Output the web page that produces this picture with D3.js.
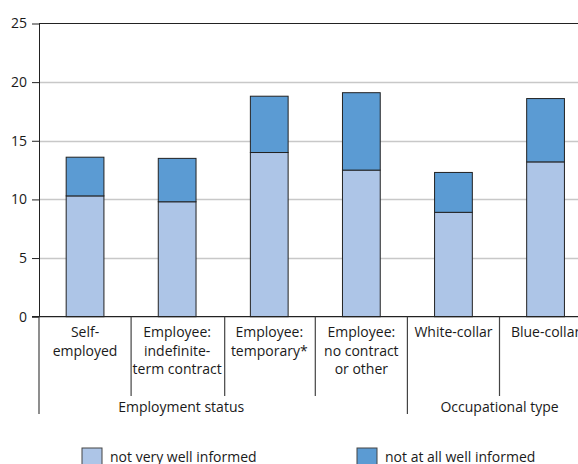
<!DOCTYPE html>
<html><head><meta charset="utf-8">
<script src="https://cdn.jsdelivr.net/npm/d3@7"></script>
<style>
html,body{margin:0;padding:0;background:#fff;overflow:hidden}
text{font-family:"Open Sans",sans-serif;fill:#1a1a1a}
</style></head>
<body><svg id="c" width="578" height="464"></svg>
<script>
const categories = [["Self-","employed"],["Employee:","indefinite-","term contract"],["Employee:","temporary*"],["Employee:","no contract","or other"],["White-collar"],["Blue-collar"]];
const notVeryWell = [10.3, 9.8, 14.0, 12.5, 8.9, 13.2];
const notAtAllWell = [3.3, 3.7, 4.8, 6.6, 3.4, 5.4];
const seriesNames = ["not very well informed","not at all well informed"];
const yTicks = [0,5,10,15,20,25];
const groups = [{name:"Employment status", from:0, to:3}, {name:"Occupational type", from:4, to:5}];

(function(){
const colors = ["#adc5e7","#5b9bd3"];
const svg = d3.select("#c");
const W = 578;
const mLeft = 39, mTop = 23.5, mBottom = 316.7;
const x = d3.scaleBand().domain(d3.range(categories.length)).range([mLeft, mLeft + 92.1*6]).paddingInner(0.59).paddingOuter(0.295);
const y = d3.scaleLinear().domain([0,25]).range([mBottom, mTop]);

svg.append("g").selectAll("line").data(yTicks.filter(t=>t>0 && t<25)).join("line")
  .attr("x1",mLeft).attr("x2",W).attr("y1",d=>Math.round(y(d))+0.5).attr("y2",d=>Math.round(y(d))+0.5)
  .attr("stroke","#c8c8c8").attr("stroke-width",1.5);
svg.append("line").attr("x1",mLeft).attr("x2",W).attr("y1",y(25)).attr("y2",y(25)).attr("stroke","#222").attr("stroke-width",1.2);

const yAxis = svg.append("g").attr("transform",`translate(${mLeft},0)`)
  .call(d3.axisLeft(y).tickValues(yTicks).tickSize(7).tickPadding(5).tickSizeOuter(0));
yAxis.select(".domain").attr("stroke","#222");
yAxis.selectAll(".tick line").attr("stroke","#222");
yAxis.selectAll("text").attr("font-size","14px").attr("font-family","Open Sans, sans-serif").attr("fill","#1a1a1a");

const stackData = categories.map((c,i)=>({i, a:notVeryWell[i], b:notAtAllWell[i]}));
const stack = d3.stack().keys(["a","b"])(stackData);
svg.append("g").selectAll("g").data(stack).join("g").attr("fill",(d,k)=>colors[k])
  .selectAll("rect").data(d=>d).join("rect")
  .attr("x",d=>x(d.data.i)).attr("width",x.bandwidth())
  .attr("y",d=>y(d[1])).attr("height",d=>y(d[0])-y(d[1]))
  .attr("stroke","#222").attr("stroke-width",1);

svg.append("line").attr("x1",mLeft-7).attr("x2",W).attr("y1",y(0)).attr("y2",y(0)).attr("stroke","#222").attr("stroke-width",1.2);

const step = x.step();
const bandStart = i => x(i) - x.paddingInner()*step/2;

const lab = svg.append("g").selectAll("text").data(categories).join("text")
  .attr("text-anchor","middle").attr("font-size","14px")
  .attr("x",(d,i)=>x(i)+x.bandwidth()/2).attr("y",337);
lab.selectAll("tspan").data(d=>d).join("tspan")
  .attr("x",function(){return this.parentNode.getAttribute("x");})
  .attr("dy",(d,j)=>j===0?0:18.5).text(d=>d);

// label right edges, to keep separators clear of text
const rightEdge = [];
lab.each(function(d,i){
  let w = 0; d3.select(this).selectAll("tspan").each(function(){ w = Math.max(w, this.getComputedTextLength()); });
  rightEdge[i] = x(i)+x.bandwidth()/2 + w/2;
});
const sepX = i => i===0 ? mLeft : Math.max(bandStart(i), rightEdge[i-1] + 3);

const seps = d3.range(0, categories.length).map(i=>({i, long: groups.some(g=>g.from===i)}));
svg.append("g").selectAll("line").data(seps).join("line")
  .attr("x1",d=>sepX(d.i)).attr("x2",d=>sepX(d.i))
  .attr("y1",y(0)).attr("y2",d=>d.long?414:396)
  .attr("stroke","#444").attr("stroke-width",1.2);

svg.append("g").selectAll("text").data(groups).join("text")
  .attr("text-anchor","middle").attr("font-size","14px").attr("y",412)
  .attr("x",(g,k)=> k===0 ? (bandStart(g.from)+bandStart(g.to))/2 + 4 : (bandStart(g.from)+bandStart(g.to)+step)/2)
  .text(g=>g.name);

const leg = svg.append("g").selectAll("g").data(seriesNames).join("g")
  .attr("transform",(d,k)=>`translate(${k===0?82:357},448)`);
leg.append("rect").attr("width",20).attr("height",20).attr("fill",(d,k)=>colors[k]).attr("stroke","#444").attr("stroke-width",1);
leg.append("text").attr("x",28).attr("y",14).attr("font-size","14px").text(d=>d);
})();
</script></body></html>
